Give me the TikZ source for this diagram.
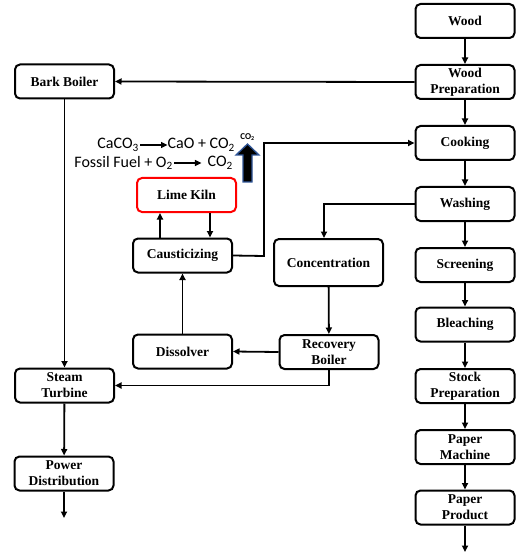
\documentclass[tikz,border=0pt]{standalone}
\usepackage{fontspec}
\setmainfont{Liberation Serif}
\newfontfamily\calib{Carlito}
\usetikzlibrary{arrows.meta}
\definecolor{arrowblue}{RGB}{47,85,151}
\begin{document}
\begin{tikzpicture}[x=1pt,y=-1pt,
  box/.style={draw, line width=2pt, rounded corners=5pt, minimum width=99pt, minimum height=34pt,
    font=\bfseries\fontsize{13.5}{16}\selectfont, align=center, inner sep=1pt},
  conn/.style={line width=1.8pt, -{Triangle[length=6.5pt,width=6pt]}},
  eqtext/.style={font=\calib\fontsize{16}{18}\selectfont, inner sep=0pt}]
\useasboundingbox (0,0) rectangle (515,553);
% right column
\node[box] (wood) at (465,21) {Wood};
\node[box] (wprep) at (465,82) {Wood\\Preparation};
\node[box] (cook) at (465,143) {Cooking};
\node[box] (wash) at (465,204) {Washing};
\node[box] (screen) at (465,265) {Screening};
\node[box] (bleach) at (465,324.5) {Bleaching};
\node[box] (stock) at (465,386) {Stock\\Preparation};
\node[box] (pmach) at (465,447) {Paper\\Machine};
\node[box] (pprod) at (465,507.5) {Paper\\Product};
\coordinate (pend) at (465,552);
% left column
\node[box] (bark) at (64.5,81.5) {Bark Boiler};
\node[box] (steam) at (64.5,385.5) {Steam\\Turbine};
\node[box] (power) at (64,473.5) {Power\\Distribution};
\coordinate (powend) at (64,518);
% middle
\node[box, draw=red] (kiln) at (186.5,195) {Lime Kiln};
\node[box] (caust) at (182.5,255.5) {Causticizing};
\node[box, minimum width=109pt, minimum height=47pt] (conc) at (328.5,262.5) {Concentration};
\node[box] (recov) at (329,352) {Recovery\\Boiler};
\node[box] (diss) at (182.5,351.5) {Dissolver};
% helper coordinates
\coordinate (xup) at (160,0);
\coordinate (xdown) at (210,0);
\coordinate (cbend) at (264,256);
\coordinate (ctop) at (264,143);
\coordinate (wbend) at (324,204);
\coordinate (xconc) at (324,0);
% connectors right column
\draw[conn] (wood) -- (wprep);
\draw[conn] (wprep) -- (cook);
\draw[conn] (cook) -- (wash);
\draw[conn] (wash) -- (screen);
\draw[conn] (screen) -- (bleach);
\draw[conn] (bleach) -- (stock);
\draw[conn] (stock) -- (pmach);
\draw[conn] (pmach) -- (pprod);
\draw[conn] (pprod) -- (pend);
% left
\draw[conn] (wprep.west) -- (bark.east);
\draw[conn] (bark) -- (steam);
\draw[conn] (steam) -- (power);
\draw[conn] (power) -- (powend);
% middle
\draw[conn] (xup |- caust.north) -- (xup |- kiln.south);
\draw[conn] (xdown |- kiln.south) -- (xdown |- caust.north);
\draw[conn] (caust.east) -- (cbend) -- (ctop) -- (cook.west);
\draw[conn] (wash.west) -- (wbend) -- (xconc |- conc.north);
\draw[conn] (conc) -- (recov);
\draw[conn] (recov.west) -- (diss.east);
\draw[conn] (diss) -- (caust);
\draw[conn] (recov.south) |- (steam.east);
% equations
\node[eqtext, anchor=east] (eq1a) at (139,145) {CaCO\textsubscript{3}};
\node[eqtext, anchor=west] (eq1b) at (167.5,145) {CaO + CO\textsubscript{2}};
\draw[conn, line width=1.5pt] ([xshift=1pt]eq1a.east) -- (eq1b.west);
\node[eqtext, anchor=east] (eq2a) at (173,163) {Fossil Fuel + O\textsubscript{2}};
\node[eqtext, anchor=east] (eq2b) at (233,163) {CO\textsubscript{2}};
\draw[conn, line width=1.5pt] ([xshift=1pt]eq2a.east) -- ([xshift=-6pt]eq2b.west);
% CO2 up arrow
\node[font=\calib\bfseries\fontsize{9}{10}\selectfont, inner sep=0pt] (co2lbl) at (247.5,137.5) {CO\textsubscript{2}};
\draw[fill=black, draw=arrowblue, line width=1.3pt, line join=miter]
  (243,182) -- (243,155) -- (236,155) -- (247.5,144) -- (259,155) -- (252,155) -- (252,182) -- cycle;
\end{tikzpicture}
\end{document}
